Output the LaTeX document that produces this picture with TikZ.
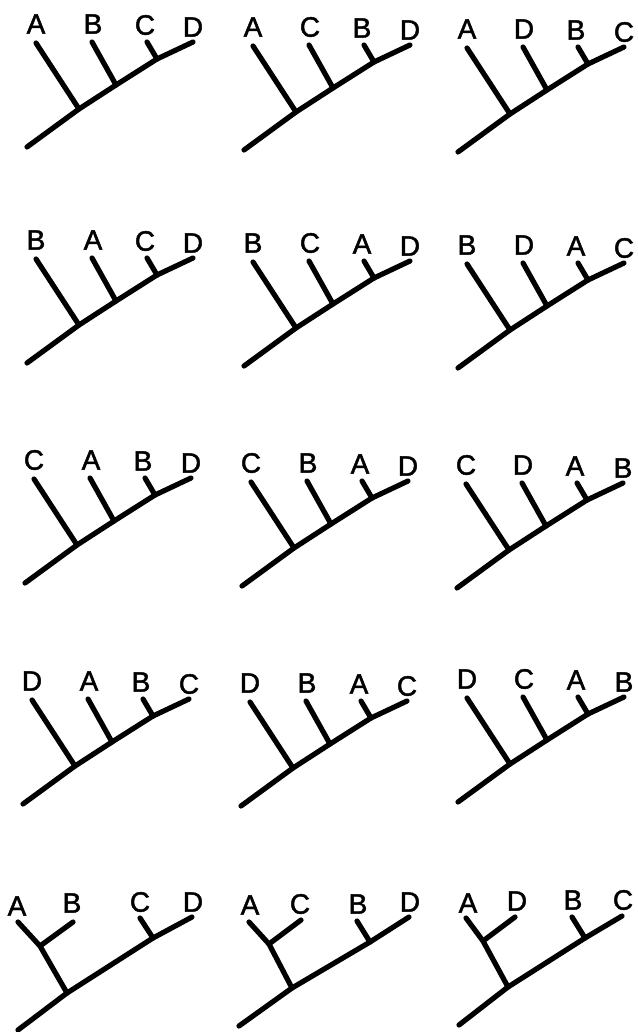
\documentclass[tikz,border=0pt]{standalone}
\usepackage{fontspec}
\setmainfont{Liberation Sans}
\newfontfamily\labfont[FakeBold=1.6]{Liberation Sans}
\tikzset{
  br/.style={line width=5.2pt, line cap=round, line join=round, black},
  lab/.style={font=\labfont\fontsize{28}{28}\selectfont, inner sep=0pt, anchor=center, text=black}
}
% caterpillar tree: #1 name, #2 dx, #3 dy, #4..#7 labels (left to right)
\newcommand{\cattree}[7]{%
  \begin{scope}[shift={(#2,#3)}]
    \coordinate (#1r)  at (27,147);
    \coordinate (#1j1) at (79,109);
    \coordinate (#1j2) at (116,85);
    \coordinate (#1j3) at (157,59);
    \coordinate (#1e)  at (193,42);
    \coordinate (#1t1) at (36,43);
    \coordinate (#1t2) at (92,42);
    \coordinate (#1t3) at (147,42);
    \node[lab] (#1l1) at (36,24) {#4};
    \node[lab] (#1l2) at (93,24) {#5};
    \node[lab] (#1l3) at (145,25) {#6};
    \node[lab] (#1l4) at (193,27) {#7};
    \draw[br] (#1r) -- (#1j1) -- (#1j2) -- (#1j3) -- (#1e);
    \draw[br] (#1t1) -- (#1j1);
    \draw[br] (#1t2) -- (#1j2);
    \draw[br] (#1t3) -- (#1j3);
  \end{scope}}
% tree with a basal pair: #1 name, #2..#5 labels
\newcommand{\pairtree}[5]{%
  \draw[br] (#1r) -- (#1j1) -- (#1j3) -- (#1e);
  \draw[br] (#1t1) -- (#1j2) -- (#1j1);
  \draw[br] (#1j2) -- (#1t2);
  \draw[br] (#1t3) -- (#1j3);
  \node[lab] (#1l1) at (#1p1) {#2};
  \node[lab] (#1l2) at (#1p2) {#3};
  \node[lab] (#1l3) at (#1p3) {#4};
  \node[lab] (#1l4) at (#1p4) {#5};}
\begin{document}
\begin{tikzpicture}[x=1pt,y=-1pt]
\useasboundingbox[fill=white] (0,0) rectangle (637,1032);
% row 1
\cattree{a}{0}{0}{A}{B}{C}{D}
\cattree{b}{217}{3}{A}{C}{B}{D}
\cattree{c}{431}{5}{A}{D}{B}{C}
% row 2
\cattree{d}{0}{216}{B}{A}{C}{D}
\cattree{e}{217}{219}{B}{C}{A}{D}
\cattree{f}{431}{221}{B}{D}{A}{C}
% row 3
\cattree{g}{-2}{436}{C}{A}{B}{D}
\cattree{h}{215}{439}{C}{B}{A}{D}
\cattree{i}{430}{441}{C}{D}{A}{B}
% row 4
\cattree{j}{-4}{657}{D}{A}{B}{C}
\cattree{k}{214}{659}{D}{B}{A}{C}
\cattree{l}{431}{655}{D}{C}{A}{B}
% row 5, tree 1
\coordinate (mr) at (18,1030);
\coordinate (mj1) at (67,993);
\coordinate (mj2) at (40,946);
\coordinate (mj3) at (153,938);
\coordinate (me) at (192,917);
\coordinate (mt1) at (18,922);
\coordinate (mt2) at (73,922);
\coordinate (mt3) at (140,918);
\coordinate (mp1) at (17,906);
\coordinate (mp2) at (72,903);
\coordinate (mp3) at (140,902);
\coordinate (mp4) at (193,902);
\pairtree{m}{A}{B}{C}{D}
% row 5, tree 2
\coordinate (nr) at (239,1026);
\coordinate (nj1) at (292,988);
\coordinate (nj2) at (269,944);
\coordinate (nj3) at (370,942);
\coordinate (ne) at (409,917);
\coordinate (nt1) at (249,922);
\coordinate (nt2) at (301,920);
\coordinate (nt3) at (357,921);
\coordinate (np1) at (250,905);
\coordinate (np2) at (300,904);
\coordinate (np3) at (358,904);
\coordinate (np4) at (410,902);
\pairtree{n}{A}{C}{B}{D}
% row 5, tree 3
\coordinate (or) at (459,1025);
\coordinate (oj1) at (508,987);
\coordinate (oj2) at (483,941);
\coordinate (oj3) at (585,938);
\coordinate (oe) at (622,916);
\coordinate (ot1) at (466,918);
\coordinate (ot2) at (515,917);
\coordinate (ot3) at (572,917);
\coordinate (op1) at (468,903);
\coordinate (op2) at (517,901);
\coordinate (op3) at (573,900);
\coordinate (op4) at (623,900);
\pairtree{o}{A}{D}{B}{C}
\end{tikzpicture}
\end{document}
